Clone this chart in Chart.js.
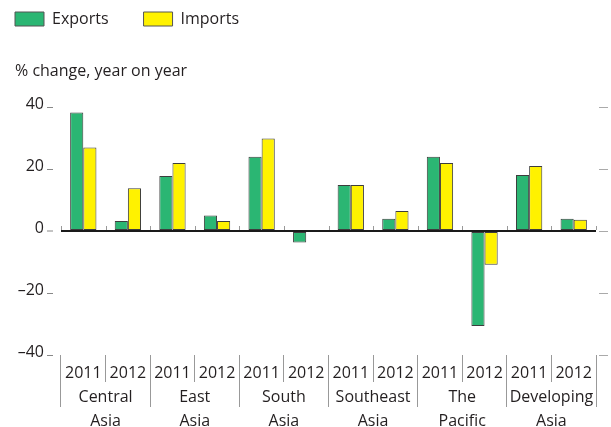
<!DOCTYPE html>
<html lang="en">
<head>
<meta charset="UTF-8">
<title>Exports and imports, Asia</title>
<script src="https://cdn.jsdelivr.net/npm/chart.js@4.4.1/dist/chart.umd.min.js"></script>
<style>
    html, body { margin: 0; padding: 0; background: #fff; }
    #wrap { width: 611px; height: 427px; }
</style>
</head>
<body>
<div id="wrap"><canvas id="myChart" width="611" height="427"></canvas></div>
<script>
// data
const years = ['2011', '2012', '2011', '2012', '2011', '2012', '2011', '2012', '2011', '2012', '2011', '2012'];
const regions = [['Central', 'Asia'], ['East', 'Asia'], ['South', 'Asia'], ['Southeast', 'Asia'], ['The', 'Pacific'], ['Developing', 'Asia']];
const exportsChg = [38.3, 3.3, 17.8, 5.0, 24.0, -3.7, 14.9, 4.0, 24.0, -30.6, 18.1, 4.0];
const importsChg = [27.0, 13.8, 22.0, 3.3, 29.9, 0.3, 14.9, 6.5, 22.0, -10.9, 21.0, 3.7];
const yTicks = [-40, -20, 0, 20, 40];

const FONT = '"Open Sans", "DejaVu Sans", sans-serif';
const TXT = '#231f20';

// little ticks sitting on the zero line at each category edge
const zeroTicks = {
    id: 'zeroTicks',
    afterDatasetsDraw(chart) {
        const xs = chart.scales.x, ys = chart.scales.y;
        const ctx = chart.ctx;
        const w = (xs.right - xs.left) / years.length;
        const y0 = Math.round(ys.getPixelForValue(0));
        ctx.save();
        ctx.strokeStyle = '#999';
        ctx.lineWidth = 1;
        for (let i = 0; i <= years.length; i++) {
            const x = Math.round(xs.left + i * w) + 0.5;
            ctx.beginPath();
            ctx.moveTo(x, y0 - 5);
            ctx.lineTo(x, y0 - 1);
            ctx.stroke();
        }
        ctx.restore();
    }
};

// legend sits higher and further left than chart.js would put it
const moveLegend = {
    id: 'moveLegend',
    afterLayout(chart) {
        chart.legend.left -= 35;
        chart.legend.top -= 24;
    }
};

const ctx = document.getElementById('myChart').getContext('2d');
new Chart(ctx, {
    type: 'bar',
    data: {
        labels: years,
        datasets: [{
            label: 'Exports',
            data: exportsChg,
            backgroundColor: '#2bb673',
            borderColor: '#3d3d3d',
            borderWidth: 1,
            borderSkipped: false
        }, {
            label: 'Imports',
            data: importsChg,
            backgroundColor: '#fff200',
            borderColor: '#3d3d3d',
            borderWidth: 1,
            borderSkipped: false
        }]
    },
    options: {
        responsive: false,
        animation: false,
        devicePixelRatio: 1,
        categoryPercentage: 0.59,
        barPercentage: 1.0,
        layout: { padding: { left: 15, right: 0, top: 0, bottom: 0 } },
        plugins: {
            tooltip: { enabled: false },
            legend: {
                position: 'top',
                align: 'start',
                maxHeight: 40,
                labels: {
                    boxWidth: 29,
                    boxHeight: 14,
                    padding: 35,
                    color: TXT,
                    font: { family: FONT, size: 16 },
                    generateLabels(chart) {
                        return chart.data.datasets.map((ds, i) => ({
                            text: ds.label,
                            fillStyle: ds.backgroundColor,
                            strokeStyle: '#555',
                            lineWidth: 1,
                            fontColor: TXT,
                            datasetIndex: i
                        }));
                    }
                }
            },
            title: {
                display: true,
                text: '% change, year on year',
                align: 'start',
                weight: 500,
                color: TXT,
                font: { family: FONT, size: 16, weight: 'normal' },
                padding: { top: 22, bottom: 26 }
            }
        },
        scales: {
            x: {
                type: 'category',
                position: 'bottom',
                border: { display: false },
                grid: {
                    offset: true,
                    drawOnChartArea: false,
                    tickLength: 27,
                    color: '#999',
                    lineWidth: 1
                },
                ticks: {
                    color: TXT,
                    font: { family: FONT, size: 16 },
                    padding: -18,
                    autoSkip: false,
                    maxRotation: 0
                },
                afterFit(s) { s.height = 24; }
            },
            x2: {
                type: 'category',
                labels: regions,
                position: 'bottom',
                offset: true,
                border: { display: false },
                grid: {
                    offset: true,
                    drawOnChartArea: false,
                    tickLength: 28,
                    color: '#999',
                    lineWidth: 1
                },
                ticks: {
                    color: TXT,
                    font: { family: FONT, size: 16, lineHeight: 1.5 },
                    padding: -22,
                    autoSkip: false,
                    maxRotation: 0
                },
                afterFit(s) { s.height = 48; }
            },
            y: {
                min: -40,
                max: 40,
                position: 'left',
                border: { display: false },
                afterBuildTicks(s) { s.ticks = yTicks.map(v => ({ value: v })); },
                grid: {
                    drawOnChartArea: true,
                    color: c => (c.tick && c.tick.value === 0) ? '#1a1a1a' : 'rgba(0,0,0,0)',
                    lineWidth: c => (c.tick && c.tick.value === 0) ? 2 : 1,
                    tickColor: '#888',
                    tickWidth: 1,
                    tickLength: 14,
                    tickBorderDash: [6, 20]
                },
                ticks: {
                    color: TXT,
                    font: { family: FONT, size: 16 },
                    padding: 3,
                    labelOffset: -3,
                    callback: v => String(v).replace('-', '\u2013')
                },
                afterFit(s) { s.width = 46; }
            },
            y2: {
                min: -40,
                max: 40,
                position: 'right',
                border: { display: false },
                afterBuildTicks(s) { s.ticks = yTicks.map(v => ({ value: v })); },
                grid: {
                    drawOnChartArea: false,
                    tickColor: '#aaa',
                    tickWidth: 1,
                    tickLength: 12,
                    tickBorderDash: [0, 3, 9, 20]
                },
                ticks: { display: false },
                afterFit(s) { s.width = 15; }
            }
        }
    },
    plugins: [zeroTicks, moveLegend]
});
</script>
</body>
</html>
